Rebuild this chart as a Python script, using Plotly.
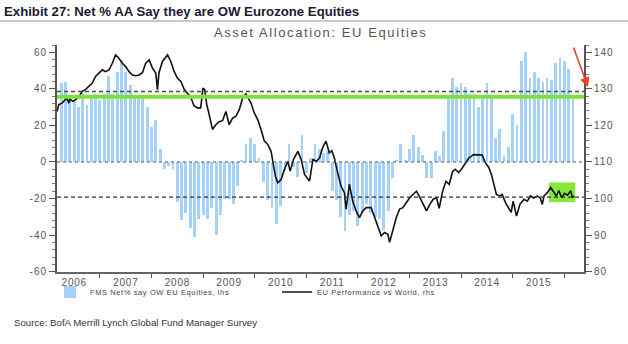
import pandas as pd
import plotly.graph_objects as go

# ---- data -------------------------------------------------------------
# FMS: net % of asset allocators overweight EU equities, monthly from Oct 2005
fms_first_month = "2005-10-01"
fms_net_ow = [43, 44, 35, 34, 30, 38, 31, 36, 37, 34,
              37, 47, 37, 49, 56, 49, 42, 36, 36, 36,
              30, 19, 23, 7, -4, -2, -4, -22, -32, -28,
              -36, -41, -31, -29, -31, -25, -40, -29, -20, -20,
              -23, -13, 1, 10, 13, 10, 2, -11, -21, -25,
              -34, -24, -5, 10, -3, -8, 15, -6, 2, 10,
              7, 5, 6, -16, -21, -30, -38, -29, -27, -35,
              -28, -23, -28, -30, -31, -37, -27, -9, 1, 10,
              1, 7, 15, 8, 4, -9, -9, 6, 3, 17,
              36, 46, 41, 43, 41, 37, 37, 30, 36, 43,
              35, 13, 18, 4, 8, 26, 20, 55, 60, 46,
              49, 46, 44, 46, 45, 54, 57, 55, 51, 36]

# EU performance vs World (rhs), sampled in decimal years
perf_time = [2005.667, 2005.700, 2005.764, 2005.856, 2005.895, 2005.920, 2005.973, 2006.023,
             2006.090, 2006.154, 2006.218, 2006.284, 2006.349, 2006.413, 2006.479, 2006.543,
             2006.602, 2006.674, 2006.738, 2006.802, 2006.855, 2006.933, 2006.997, 2007.063,
             2007.127, 2007.192, 2007.258, 2007.322, 2007.386, 2007.452, 2007.517, 2007.581,
             2007.614, 2007.643, 2007.711, 2007.809, 2007.873, 2007.939, 2008.003, 2008.068,
             2008.134, 2008.198, 2008.257, 2008.321, 2008.387, 2008.451, 2008.496, 2008.529,
             2008.568, 2008.601, 2008.679, 2008.743, 2008.808, 2008.874, 2008.938, 2009.002,
             2009.068, 2009.133, 2009.197, 2009.263, 2009.327, 2009.366, 2009.425, 2009.489,
             2009.555, 2009.619, 2009.684, 2009.750, 2009.814, 2009.859, 2009.898, 2009.945,
             2010.009, 2010.073, 2010.139, 2010.184, 2010.248, 2010.334, 2010.398, 2010.463,
             2010.509, 2010.560, 2010.626, 2010.690, 2010.755, 2010.813, 2010.879, 2010.943,
             2010.992, 2011.041, 2011.105, 2011.171, 2011.236, 2011.269, 2011.333, 2011.397,
             2011.463, 2011.528, 2011.592, 2011.658, 2011.755, 2011.820, 2011.884, 2011.950,
             2012.014, 2012.079, 2012.112, 2012.176, 2012.242, 2012.306, 2012.371, 2012.437,
             2012.501, 2012.565, 2012.631, 2012.696, 2012.760, 2012.826, 2012.890, 2012.955,
             2013.021, 2013.071, 2013.138, 2013.202, 2013.266, 2013.332, 2013.383, 2013.449,
             2013.513, 2013.578, 2013.644, 2013.741, 2013.839, 2013.903, 2013.967, 2014.033,
             2014.084, 2014.150, 2014.181, 2014.247, 2014.292, 2014.357, 2014.423, 2014.467,
             2014.506, 2014.571, 2014.637, 2014.715, 2014.779, 2014.843, 2014.906, 2014.974,
             2015.032, 2015.071, 2015.104, 2015.168, 2015.233, 2015.285, 2015.344, 2015.392,
             2015.447, 2015.500, 2015.558, 2015.622, 2015.655, 2015.688]
perf_value = [123.8, 125.7, 126.1, 127.5, 126.1, 127.2, 126.6, 127.0,
              127.8, 129.3, 129.8, 130.7, 131.6, 133.4, 134.3, 135.2,
              134.7, 135.2, 137.0, 139.3, 138.6, 137.0, 136.1, 134.7,
              133.8, 133.6, 133.8, 134.4, 137.0, 137.9, 135.7, 134.3,
              129.8, 134.4, 137.5, 139.3, 137.5, 134.7, 132.9, 132.0,
              129.8, 128.9, 127.8, 125.4, 124.8, 124.8, 130.2, 129.8,
              125.7, 123.8, 118.9, 120.2, 121.0, 121.3, 123.8, 120.2,
              122.0, 122.5, 124.3, 127.5, 128.6, 127.6, 126.1, 123.4,
              121.6, 118.9, 115.7, 114.8, 112.9, 109.3, 106.1, 104.3,
              105.2, 108.0, 110.2, 107.5, 110.7, 112.9, 110.7, 106.6,
              105.7, 104.8, 110.7, 110.2, 111.1, 113.9, 115.7, 112.5,
              113.1, 111.1, 107.1, 103.4, 101.6, 97.1, 103.9, 99.3,
              96.6, 94.8, 96.6, 97.5, 97.5, 94.8, 92.5, 89.8,
              90.7, 90.2, 88.0, 91.1, 94.8, 97.1, 97.5, 98.9,
              100.2, 101.1, 102.0, 100.3, 98.4, 96.6, 98.4, 99.8,
              100.2, 97.3, 102.0, 104.7, 103.9, 107.4, 108.0, 107.1,
              108.2, 109.8, 111.1, 112.0, 112.0, 111.9, 109.8, 108.5,
              106.6, 103.0, 101.1, 100.7, 101.1, 98.9, 97.1, 96.2,
              99.3, 95.2, 98.4, 99.8, 99.3, 100.7, 100.1, 100.7,
              100.1, 98.4, 100.7, 101.6, 103.0, 102.0, 100.7, 102.2,
              100.2, 101.4, 100.9, 102.1, 100.2, 100.7]

year_labels = [str(y) for y in range(2006, 2016)]

# reference levels (lhs units) and the recent-range box (time, rhs)
upper_dash_level = 38.6
green_level = 35.7
lower_dash_level = -19.2
box_time = (2015.20, 2015.71)
box_rhs = (99.0, 104.4)

# ---- helpers ----------------------------------------------------------
def to_date(t):
    yr = int(t)
    start = pd.Timestamp(yr, 1, 1)
    end = pd.Timestamp(yr + 1, 1, 1)
    return start + (end - start) * (t - yr)


PLOT_L, PLOT_R, PLOT_T, PLOT_B = 57, 584, 45, 272


def px_x(px):
    return (px - PLOT_L) / (PLOT_R - PLOT_L)


def px_y(py):
    return (PLOT_B - py) / (PLOT_B - PLOT_T)


def spaced(text, px):
    return f'<span style="letter-spacing:{px}px">{text}</span>'


bar_dates = pd.date_range(fms_first_month, periods=len(fms_net_ow), freq="MS")
perf_dates = [to_date(t) for t in perf_time]

AXIS_FONT = dict(family="Liberation Sans, Arial, sans-serif", size=10, color="#555555")

fig = go.Figure()

fig.add_trace(go.Bar(
    x=bar_dates, y=fms_net_ow,
    width=20 * 24 * 3600 * 1000,
    marker=dict(color="#a6d2fa", line=dict(width=0)),
    name=spaced("FMS Net% say OW EU Equities, lhs", 0.6),
    yaxis="y",
))

fig.add_trace(go.Scatter(
    x=perf_dates, y=perf_value,
    mode="lines",
    line=dict(color="#111111", width=1.6),
    name=spaced("EU Performance vs World, rhs", 0.6),
    yaxis="y2",
))

x_range = [pd.Timestamp("2005-09-01"), pd.Timestamp("2015-11-18")]

# horizontal reference lines (lhs units)
fig.add_shape(type="line", xref="paper", yref="y", x0=0, x1=1, y0=0, y1=0,
              line=dict(color="#555555", width=1, dash="dot"), layer="above")
fig.add_shape(type="line", xref="paper", yref="y", x0=0, x1=1,
              y0=green_level, y1=green_level,
              line=dict(color="#7ee03a", width=4), layer="above")
fig.add_shape(type="line", xref="paper", yref="y", x0=0, x1=1,
              y0=upper_dash_level, y1=upper_dash_level,
              line=dict(color="#4a4a4a", width=1.5, dash="4px,3px"), layer="above")
fig.add_shape(type="line", xref="paper", yref="y", x0=0, x1=1,
              y0=lower_dash_level, y1=lower_dash_level,
              line=dict(color="#333333", width=1.3, dash="4px,3px"), layer="above")

# highlighted recent range
fig.add_shape(type="rect", xref="x", yref="y2",
              x0=to_date(box_time[0]), x1=to_date(box_time[1]),
              y0=box_rhs[0], y1=box_rhs[1],
              fillcolor="#86e83a", line=dict(width=0), layer="below")

# title rule
fig.add_shape(type="line", xref="paper", yref="paper",
              x0=px_x(0), x1=px_x(628), y0=px_y(21), y1=px_y(21),
              line=dict(color="#8494b8", width=1))

annotations = [
    dict(text="<b>Exhibit 27: Net % AA Say they are OW Eurozone Equities</b>",
         x=px_x(2), y=px_y(12), xref="paper", yref="paper",
         xanchor="left", yanchor="middle", showarrow=False,
         font=dict(family="Liberation Sans, Arial, sans-serif",
                   size=13.2, color="#1b1b33")),
    dict(text=spaced("Asset Allocation: EU Equities", 1.6),
         x=px_x(320), y=px_y(32), xref="paper", yref="paper",
         xanchor="center", yanchor="middle", showarrow=False,
         font=dict(family="Liberation Sans, Arial, sans-serif", size=13, color="#555555")),
    dict(text="Source: BofA Merrill Lynch Global Fund Manager Survey",
         x=px_x(12), y=px_y(322), xref="paper", yref="paper",
         xanchor="left", yanchor="middle", showarrow=False,
         font=dict(family="Liberation Sans, Arial, sans-serif",
                   size=9.7, color="#333333")),
    dict(text="", x=px_x(588), y=px_y(87), xref="paper", yref="paper",
         ax=-15, ay=-41, axref="pixel", ayref="pixel",
         showarrow=True, arrowhead=2, arrowsize=1.2, arrowwidth=1.6,
         arrowcolor="#e8412c"),
]

fig.update_layout(
    width=628, height=344,
    margin=dict(l=PLOT_L, r=628 - PLOT_R, t=PLOT_T, b=344 - PLOT_B),
    paper_bgcolor="white", plot_bgcolor="white",
    bargap=0,
    annotations=annotations,
    showlegend=True,
    legend=dict(orientation="h", x=px_x(50), y=px_y(292), xanchor="left", yanchor="middle",
                font=dict(family="Liberation Sans, Arial, sans-serif", size=7.5, color="#444444"),
                entrywidth=182, entrywidthmode="pixels",
                bgcolor="rgba(0,0,0,0)", itemwidth=30, tracegroupgap=0),
    xaxis=dict(
        type="date", range=x_range,
        tickmode="array",
        tickvals=[pd.Timestamp(int(y), 1, 1) for y in year_labels],
        ticktext=[spaced(y, 0.8) for y in year_labels],
        ticks="", tickfont=AXIS_FONT,
        showline=True, linecolor="#666666", linewidth=2,
        showgrid=False, zeroline=False,
        minor=dict(tickmode="array",
                   tickvals=[pd.Timestamp(int(y), 7, 1) for y in ["2005"] + year_labels],
                   ticks="outside", ticklen=4, tickcolor="#555555", tickwidth=1,
                   showgrid=False),
    ),
    yaxis=dict(
        range=[-60.2, 64], tickmode="array", tickvals=[-60, -40, -20, 0, 20, 40, 60],
        ticktext=[spaced(str(v), 1) for v in [-60, -40, -20, 0, 20, 40, 60]],
        ticks="outside", ticklen=6, tickcolor="#555555", tickwidth=1,
        tickfont=AXIS_FONT,
        showline=True, linecolor="#555555", linewidth=2,
        showgrid=False, zeroline=False,
        minor=dict(dtick=4, tick0=0, ticks="outside", ticklen=3,
                   tickcolor="#777777", showgrid=False),
    ),
    yaxis2=dict(
        range=[79.9, 142], overlaying="y", side="right",
        tickmode="array", tickvals=[80, 90, 100, 110, 120, 130, 140],
        ticktext=[spaced(str(v), 1) for v in [80, 90, 100, 110, 120, 130, 140]],
        ticks="outside", ticklen=6, tickcolor="#555555", tickwidth=1,
        tickfont=AXIS_FONT,
        showline=True, linecolor="#555555", linewidth=2,
        showgrid=False, zeroline=False,
        minor=dict(dtick=2, tick0=0, ticks="outside", ticklen=3,
                   tickcolor="#777777", showgrid=False),
    ),
)

fig.write_html("out.html")
